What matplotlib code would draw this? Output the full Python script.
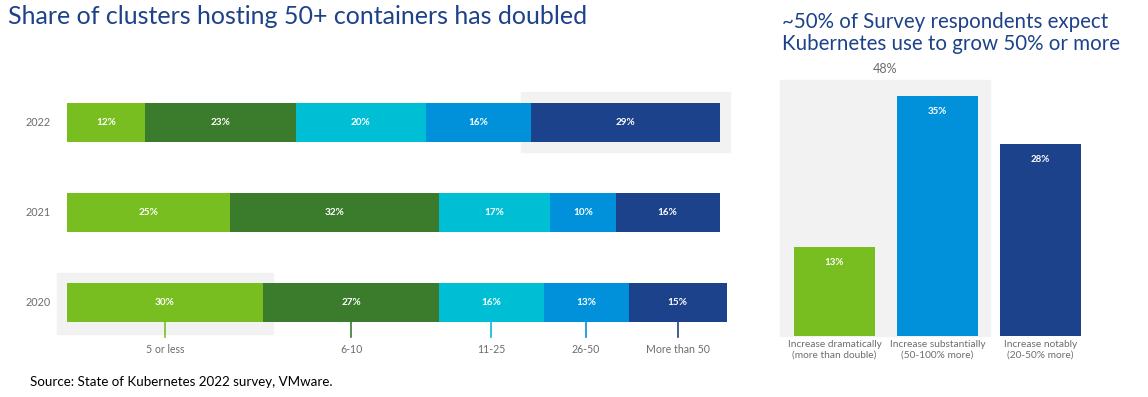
import numpy as np
import matplotlib
matplotlib.use("Agg")
import matplotlib.pyplot as plt
from matplotlib.patches import Rectangle

# data
years = ["2022", "2021", "2020"]
buckets = ["5 or less", "6-10", "11-25", "26-50", "More than 50"]
share_2022 = [12, 23, 20, 16, 29]
share_2021 = [25, 32, 17, 10, 16]
share_2020 = [30, 27, 16, 13, 15]

growth_cats = ["Increase dramatically\n(more than double)",
               "Increase substantially\n(50-100% more)",
               "Increase notably\n(20-50% more)"]
growth_vals = [13, 35, 28]

palette = ["#78be20", "#3a7b2c", "#00bfd4", "#0091da", "#1b428a"]
title_col = "#1d4289"
grey_txt = "#6d6d6d"
box_col = "#f2f2f2"

plt.rcParams["font.family"] = ["Lato", "DejaVu Sans"]

W, H = 1148, 397
fig = plt.figure(figsize=(W / 100, H / 100), dpi=100)

def px_axes(x0, y0, x1, y1):
    # axes from pixel box (top-left origin)
    return fig.add_axes([x0 / W, 1 - y1 / H, (x1 - x0) / W, (y1 - y0) / H])

# ---- left: stacked horizontal bars
ax = px_axes(67, 60, 720, 360)
ax.set_xlim(0, 100)
ax.set_ylim(-0.639, 2.694)
ax.axis("off")

rows = [share_2022, share_2021, share_2020]
ypos = [2, 1, 0]
bh = 0.433
pad = 1.5
for yr, vals, y in zip(years, rows, ypos):
    lefts = np.concatenate([[0], np.cumsum(vals)[:-1]])
    bars = ax.barh(y, vals, left=lefts, height=bh, color=palette, zorder=2)
    for b in bars:
        b.set_clip_on(False)
    for l, v in zip(lefts, vals):
        ax.text(l + v / 2, y, f"{v}%", color="white", fontsize=7.2,
                fontweight="bold", ha="center", va="center", zorder=3)
    ax.text(-4.4, y, yr, color=grey_txt, fontsize=7.8, ha="center", va="center")
    if yr == "2022":
        # highlight the largest bucket
        ax.add_patch(Rectangle((lefts[-1] - pad, y - 0.333), vals[-1] + 2 * pad, 0.666,
                               color=box_col, zorder=1, clip_on=False))
    if yr == "2020":
        ax.add_patch(Rectangle((lefts[0] - pad, y - 0.35), vals[0] + 2 * pad, 0.678,
                               color=box_col, zorder=1, clip_on=False))
        # bucket legend ticks under the 2020 bar
        for l, v, c, b in zip(lefts, vals, palette, buckets):
            xc = l + v / 2
            ax.plot([xc, xc], [y - bh / 2, -0.383], color=c, lw=1.2, zorder=2)
            ax.text(xc, -0.517, b, color=grey_txt, fontsize=7.6, ha="center", va="center")

fig.text(8 / W, 1 - 17 / H, "Share of clusters hosting 50+ containers has doubled",
         color=title_col, fontsize=18, ha="left", va="center")
fig.text(30 / W, 1 - 382 / H, "Source: State of Kubernetes 2022 survey, VMware.",
         color="black", fontsize=9.6, ha="left", va="center")

# ---- right: vertical bars
ax2 = px_axes(780, 80, 1090, 336)
ax2.set_xlim(-0.529, 2.48)
ax2.set_ylim(0, 256 / 6.87)
ax2.axis("off")
x = np.arange(len(growth_vals))
bw = 0.786
ax2.bar(x, growth_vals, width=bw, color=[palette[0], palette[3], palette[4]], zorder=2)
for xi, v in zip(x, growth_vals):
    ax2.text(xi, v - 16 / 6.87, f"{v}%", color="white", fontsize=7,
             fontweight="bold", ha="center", va="center", zorder=3)
    ax2.text(xi, -0.65, growth_cats[xi], color=grey_txt, fontsize=7.3,
             ha="center", va="top", linespacing=1.2)
box_l = -bw / 2 - 0.136
box_r = 1 + bw / 2 + 0.117
ax2.add_patch(Rectangle((box_l, 0), box_r - box_l, max(growth_vals[:2]) + 2.2,
                        color=box_col, zorder=1, clip_on=False))
ax2.text((box_l + box_r) / 2, max(growth_vals[:2]) + 3.9,
         f"{sum(growth_vals[:2])}%", color=grey_txt, fontsize=9,
         ha="center", va="center")

fig.text(782 / W, 1 - 33 / H,
         "~50% of Survey respondents expect\nKubernetes use to grow 50% or more",
         color=title_col, fontsize=14.8, ha="left", va="center", linespacing=1.1)

fig.savefig("out.png", dpi=100)
